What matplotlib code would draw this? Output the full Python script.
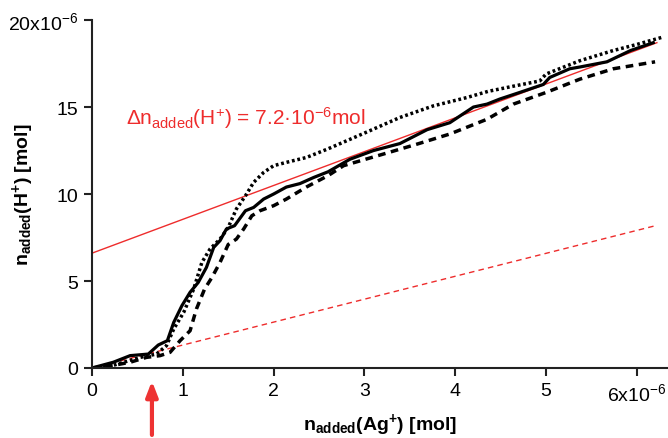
import matplotlib
matplotlib.use("Agg")
import matplotlib.pyplot as plt

plt.rcParams['font.family'] = ['Liberation Sans', 'DejaVu Sans']
plt.rcParams['mathtext.fontset'] = 'custom'
plt.rcParams['mathtext.rm'] = 'Liberation Sans'
plt.rcParams['mathtext.it'] = 'Liberation Sans:italic'
plt.rcParams['mathtext.bf'] = 'Liberation Sans:bold'

# values in units of 1e-6 mol
solid_x = [0, 0.235, 0.42, 0.62, 0.73, 0.83, 0.90, 0.99, 1.08, 1.17, 1.26, 1.34, 1.41, 1.48, 1.57,
           1.69, 1.78, 1.89, 2.0, 2.14, 2.29, 2.44, 2.60, 2.84, 3.10, 3.39, 3.69, 3.94, 4.2, 4.35,
           4.49, 4.71, 4.97, 5.04, 5.26, 5.37, 5.67, 5.93, 6.18]
solid_y = [0, 0.33, 0.71, 0.80, 1.32, 1.57, 2.62, 3.58, 4.35, 4.92, 5.78, 6.93, 7.32, 7.99, 8.18,
           9.04, 9.23, 9.71, 10.0, 10.4, 10.6, 10.95, 11.28, 12.0, 12.5, 12.9, 13.7, 14.1, 15.0, 15.17,
           15.46, 15.84, 16.3, 16.7, 17.2, 17.3, 17.6, 18.25, 18.7]

dotted_x = [0, 0.16, 0.35, 0.53, 0.71, 0.82, 0.90, 1.01, 1.12, 1.21, 1.30, 1.41, 1.50, 1.59, 1.69,
            1.78, 1.89, 2.0, 2.14, 2.36, 2.6, 3.02, 3.39, 3.76, 4.13, 4.36, 4.64, 4.93, 5.0,
            5.37, 5.74, 6.0, 6.27]
dotted_y = [0, 0.04, 0.33, 0.61, 0.8, 1.28, 2.24, 3.2, 4.54, 6.07, 6.84, 7.41, 8.08, 9.14, 9.9,
            10.67, 11.24, 11.63, 11.82, 12.1, 12.6, 13.55, 14.4, 15.07, 15.55, 15.9, 16.2, 16.5, 16.9,
            17.66, 18.25, 18.6, 19.0]

dashed_x = [0, 0.235, 0.42, 0.60, 0.75, 0.86, 0.97, 1.08, 1.15, 1.24, 1.32, 1.41, 1.50, 1.59, 1.67,
            1.76, 1.85, 2.0, 2.14, 2.36, 2.6, 2.77, 3.21, 3.58, 3.94, 4.35, 4.64, 5.0, 5.37, 5.74, 6.2]
dashed_y = [0, 0.15, 0.33, 0.61, 0.71, 0.9, 1.57, 2.14, 3.39, 4.54, 5.2, 6.07, 7.1, 7.41, 7.99,
            8.75, 9.04, 9.33, 9.71, 10.4, 11.06, 11.63, 12.3, 12.87, 13.45, 14.3, 15.17, 15.84, 16.6, 17.2, 17.6]

fit_x = [0, 6.22]
fit_y = [6.6, 18.7]
base_x = [0, 6.22]
base_y = [0, 8.2]

x_ticks = [0, 1, 2, 3, 4, 5, 6]
x_labels = ["0", "1", "2", "3", "4", "5", "6x10$^{-6}$"]
y_ticks = [0, 5, 10, 15, 20]
y_labels = ["0", "5", "10", "15", "20x10$^{-6}$"]
arrow_x = 0.66

fig = plt.figure(figsize=(6.68, 4.39), dpi=100)
ax = fig.add_axes([0.1377, 0.1595, 0.862, 0.7925])

ax.plot(fit_x, fit_y, color='#ee2c2c', lw=1.0)
ax.plot(base_x, base_y, color='#ee2c2c', lw=1.0, ls=(0, (4, 3)))
ax.plot(solid_x, solid_y, color='black', lw=2.3)
ax.plot(dotted_x, dotted_y, color='black', lw=2.5, ls=(0, (0.8, 0.8)))
ax.plot(dashed_x, dashed_y, color='black', lw=2.5, ls=(0, (2.2, 1.6)))

ax.set_xlim(0, 6.34)
ax.set_ylim(0, 20)
for s in ['top', 'right']:
    ax.spines[s].set_visible(False)
for s in ['left', 'bottom']:
    ax.spines[s].set_linewidth(1.5)
    ax.spines[s].set_color('#222222')
ax.set_xticks(x_ticks)
ax.set_xticklabels(x_labels)
ax.set_yticks(y_ticks)
ax.set_yticklabels(y_labels)
ax.tick_params(direction='out', length=6, width=1.5, labelsize=14, pad=4, color='#222222')

ax.set_xlabel(r"$\mathbf{n_{added}(Ag^{+})\ [mol]}$", fontsize=14, labelpad=5)
ax.set_ylabel(r"$\mathbf{n_{added}(H^{+})\ [mol]}$", fontsize=14)
ax.yaxis.set_label_coords(-0.097, 0.5)

ax.text(0.38, 14.4, r"Δn$_{\mathrm{added}}$(H$^{+}$) = 7.2·10$^{-6}$mol", color='#ee2c2c', fontsize=15,
        va='center', ha='left')

ax.annotate("", xy=(arrow_x, -0.75), xytext=(arrow_x, -3.85), xycoords='data',
            annotation_clip=False,
            arrowprops=dict(arrowstyle='-|>,head_length=0.9,head_width=0.35', color='#ee3333', lw=3,
                            shrinkA=0, shrinkB=0))

fig.savefig("out.png", dpi=100)
